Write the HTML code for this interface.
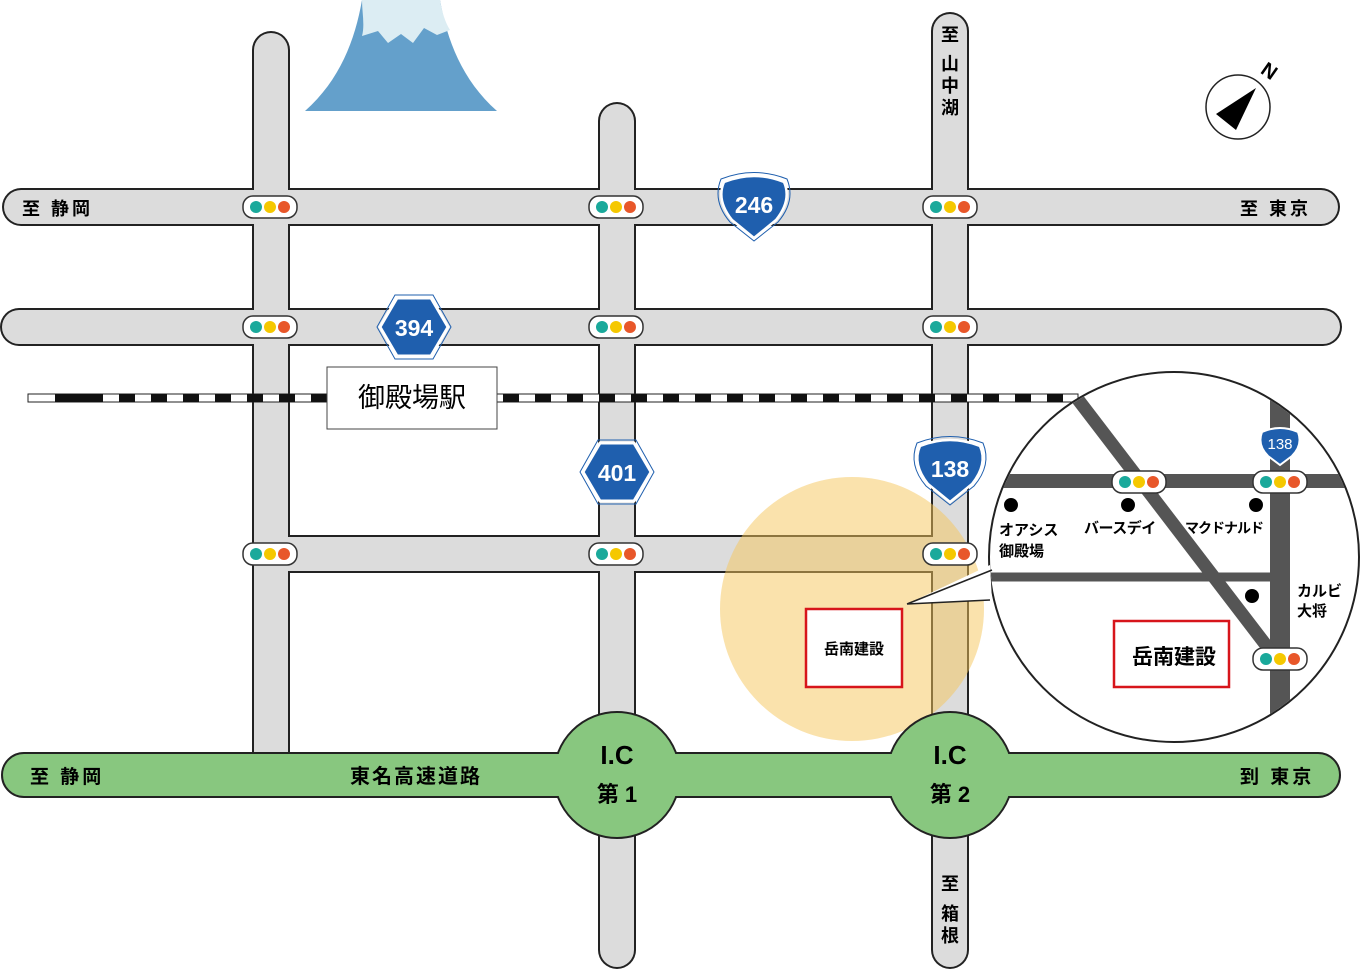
<!DOCTYPE html>
<html><head><meta charset="utf-8"><style>html,body{margin:0;padding:0;background:#fff}svg{display:block}text{font-family:"Liberation Sans","Noto Sans CJK JP",sans-serif;font-weight:bold}</style></head>
<body>
<svg width="1360" height="970" viewBox="0 0 1360 970" xmlns="http://www.w3.org/2000/svg">
<defs>
<clipPath id="ic"><circle cx="1174" cy="557" r="184"/></clipPath>
<g id="tl"><rect x="-27" y="-11" width="54" height="22" rx="10" fill="#fff" stroke="#333" stroke-width="1.5"/><circle cx="-14" cy="0" r="6" fill="#1aa99b"/><circle cx="0" cy="0" r="6" fill="#f5c800"/><circle cx="14" cy="0" r="6" fill="#e8572a"/></g>
</defs>
<!-- mountain -->
<path d="M305,111 C340,80 355,40 362,0 L440,0 C447,40 462,80 497,111 Z" fill="#64a0cb"/>
<path d="M362,0 L440,0 C442,12 445,22 450,30 L437,35 L424,28 L413,43 L401,34 L388,43 L378,31 L362,36 C365,25 362,12 362,0Z" fill="#dcedf3"/>
<!-- roads outline -->
<g stroke="#222" stroke-width="38" stroke-linecap="round" fill="none">
<line x1="271" y1="50" x2="271" y2="770"/>
<line x1="617" y1="121" x2="617" y2="950"/>
<line x1="950" y1="31" x2="950" y2="950"/>
<line x1="21" y1="207" x2="1321" y2="207"/>
<line x1="19" y1="327" x2="1323" y2="327"/>
<line x1="271" y1="554" x2="950" y2="554" stroke-linecap="butt"/>
</g>
<g stroke="#dcdcdc" stroke-width="34" stroke-linecap="round" fill="none">
<line x1="271" y1="50" x2="271" y2="770"/>
<line x1="617" y1="121" x2="617" y2="950"/>
<line x1="950" y1="31" x2="950" y2="950"/>
<line x1="21" y1="207" x2="1321" y2="207"/>
<line x1="19" y1="327" x2="1323" y2="327"/>
<line x1="271" y1="554" x2="950" y2="554" stroke-linecap="butt"/>
</g>
<!-- rail -->
<rect x="28" y="394" width="1050" height="8" fill="#fff" stroke="#222" stroke-width="1"/>
<line x1="55" y1="398" x2="1078" y2="398" stroke="#111" stroke-width="8" stroke-dasharray="16,16"/>
<line x1="55" y1="398" x2="103" y2="398" stroke="#111" stroke-width="8"/>
<rect x="327" y="367" width="170" height="62" fill="#fff" stroke="#444" stroke-width="1"/>
<text x="412" y="407" font-size="27" text-anchor="middle" style="font-weight:normal">御殿場駅</text>
<!-- orange -->
<circle cx="852" cy="609" r="132" fill="#f6c65a" opacity="0.5"/>
<!-- highway -->
<rect x="2" y="753" width="1338" height="44" rx="22" fill="#88c77f" stroke="#222" stroke-width="2"/>
<circle cx="617" cy="775" r="63" fill="#88c77f" stroke="#222" stroke-width="2"/>
<circle cx="950" cy="775" r="63" fill="#88c77f" stroke="#222" stroke-width="2"/>
<rect x="540" y="754" width="160" height="42" fill="#88c77f"/>
<rect x="873" y="754" width="160" height="42" fill="#88c77f"/>
<text x="617" y="764" font-size="26" text-anchor="middle">I.C</text>
<text x="617" y="802" font-size="22" text-anchor="middle">第 1</text>
<text x="950" y="764" font-size="26" text-anchor="middle">I.C</text>
<text x="950" y="802" font-size="22" text-anchor="middle">第 2</text>
<text x="30" y="783" font-size="19" letter-spacing="3">至 静岡</text>
<text x="350" y="783" font-size="20" letter-spacing="2">東名高速道路</text>
<text x="1240" y="783" font-size="19" letter-spacing="3">到 東京</text>
<!-- road labels -->
<text x="22" y="215" font-size="18" letter-spacing="3">至 静岡</text>
<text x="1240" y="215" font-size="18" letter-spacing="3">至 東京</text>
<g font-size="18" text-anchor="middle"><text x="950" y="41">至</text><text x="950" y="70">山</text><text x="950" y="92">中</text><text x="950" y="114">湖</text>
<text x="950" y="890">至</text><text x="950" y="920">箱</text><text x="950" y="942">根</text></g>
<!-- traffic lights -->
<use href="#tl" x="270" y="207"/><use href="#tl" x="616" y="207"/><use href="#tl" x="950" y="207"/>
<use href="#tl" x="270" y="327"/><use href="#tl" x="616" y="327"/><use href="#tl" x="950" y="327"/>
<use href="#tl" x="270" y="554"/><use href="#tl" x="616" y="554"/><use href="#tl" x="950" y="554"/>
<!-- shields -->
<path d="M724,182 Q754,170 784,182 Q792,200 776,220 L754,238 L732,220 Q716,200 724,182Z" fill="#1f5fae" stroke="#fff" stroke-width="2.5"/>
<path d="M721,179 Q754,166 787,179 Q796,201 778,222 L754,241 L730,222 Q712,201 721,179Z" fill="none" stroke="#1f5fae" stroke-width="1"/>
<text x="754" y="213" font-size="23" fill="#fff" text-anchor="middle">246</text>
<path d="M920,446 Q950,434 980,446 Q988,464 972,484 L950,502 L928,484 Q912,464 920,446Z" fill="#1f5fae" stroke="#fff" stroke-width="2.5"/>
<path d="M917,443 Q950,430 983,443 Q992,465 974,486 L950,505 L926,486 Q908,465 917,443Z" fill="none" stroke="#1f5fae" stroke-width="1"/>
<text x="950" y="477" font-size="23" fill="#fff" text-anchor="middle">138</text>
<polygon points="380,327 397,298 431,298 448,327 431,356 397,356" fill="#1f5fae" stroke="#fff" stroke-width="3"/>
<polygon points="377,327 395,295 433,295 451,327 433,359 395,359" fill="none" stroke="#1f5fae" stroke-width="1"/>
<text x="414" y="336" font-size="23" fill="#fff" text-anchor="middle">394</text>
<polygon points="583,472 600,443 634,443 651,472 634,501 600,501" fill="#1f5fae" stroke="#fff" stroke-width="3"/>
<polygon points="580,472 598,440 636,440 654,472 636,504 598,504" fill="none" stroke="#1f5fae" stroke-width="1"/>
<text x="617" y="481" font-size="23" fill="#fff" text-anchor="middle">401</text>
<!-- small box -->
<rect x="806" y="609" width="96" height="78" fill="#fff" stroke="#d7151b" stroke-width="2.5"/>
<text x="854" y="654" font-size="15" text-anchor="middle">岳南建設</text>
<!-- inset -->
<circle cx="1174" cy="557" r="185" fill="#fff" stroke="#222" stroke-width="2"/>
<path d="M907,604 L990,565 L992,600 Z" fill="#fff"/>
<path d="M907,604 L992,570 M907,604 L990,600" stroke="#222" stroke-width="1.5" fill="none"/>
<g clip-path="url(#ic)">
<line x1="985" y1="481" x2="1360" y2="481" stroke="#555" stroke-width="14"/>
<line x1="985" y1="577" x2="1272" y2="577" stroke="#555" stroke-width="9"/>
<line x1="1280" y1="380" x2="1280" y2="760" stroke="#555" stroke-width="20"/>
<line x1="1073" y1="393" x2="1272" y2="653" stroke="#555" stroke-width="13"/>
</g>
<path d="M1262,432 Q1280,424 1298,432 Q1303,445 1292,456 L1280,465 L1268,456 Q1257,445 1262,432Z" fill="#1f5fae" stroke="#fff" stroke-width="2"/>
<text x="1280" y="449" font-size="15" fill="#fff" text-anchor="middle" style="font-weight:normal">138</text>
<use href="#tl" x="1139" y="482"/><use href="#tl" x="1280" y="482"/><use href="#tl" x="1280" y="659"/>
<circle cx="1011" cy="505" r="7"/><circle cx="1128" cy="505" r="7"/><circle cx="1256" cy="505" r="7"/><circle cx="1252" cy="596" r="7"/>
<g font-size="15"><text x="999" y="535">オアシス</text><text x="999" y="556">御殿場</text>
<text x="1084" y="533" letter-spacing="-0.5">バースデイ</text><text x="1185" y="533" font-size="14" letter-spacing="-1">マクドナルド</text>
<text x="1297" y="596">カルビ</text><text x="1297" y="616">大将</text></g>
<rect x="1114" y="621" width="115" height="66" fill="#fff" stroke="#d7151b" stroke-width="2.5"/>
<text x="1174" y="664" font-size="21" text-anchor="middle">岳南建設</text>
<!-- compass -->
<circle cx="1238" cy="107" r="32" fill="#fff" stroke="#222" stroke-width="1.5"/>
<polygon points="1256,88 1216,114 1236,130" fill="#000"/>
<text x="1270" y="78" font-size="20" text-anchor="middle" transform="rotate(35 1270 70)">N</text>
</svg>
</body></html>
